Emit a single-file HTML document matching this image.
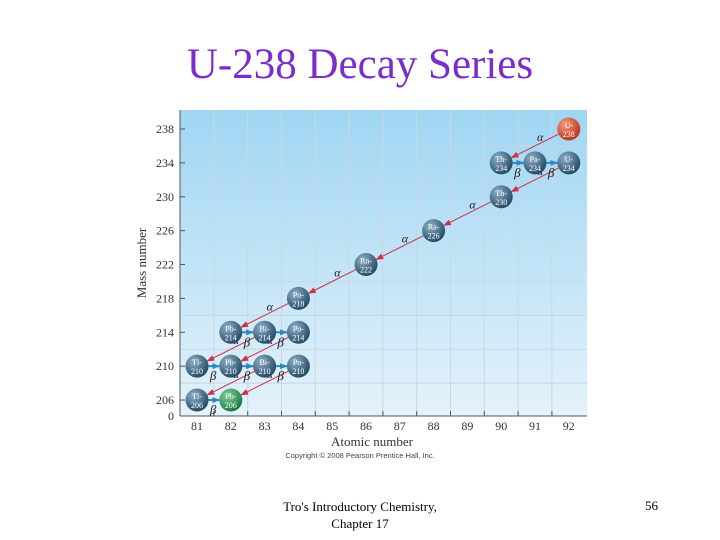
<!DOCTYPE html>
<html><head><meta charset="utf-8"><style>
body{margin:0;width:720px;height:540px;background:#fff;overflow:hidden;font-family:"Liberation Serif",serif}
</style></head><body>
<div style="position:absolute;left:0;width:720px;top:40px;text-align:center;font-size:43px;color:#7a2ccc;">U-238 Decay Series</div>
<svg id="c" width="720" height="540" style="position:absolute;left:0;top:0" xmlns="http://www.w3.org/2000/svg">
<defs>
<linearGradient id="bg" x1="0" y1="0" x2="0" y2="1"><stop offset="0" stop-color="#9fd6f3"/><stop offset="1" stop-color="#e4f2fb"/></linearGradient>
<radialGradient id="gb" cx="0.35" cy="0.3" r="0.75"><stop offset="0" stop-color="#8fb0c6"/><stop offset="1" stop-color="#1f4560"/></radialGradient>
<radialGradient id="gr" cx="0.35" cy="0.3" r="0.75"><stop offset="0" stop-color="#f59a7a"/><stop offset="1" stop-color="#b8301a"/></radialGradient>
<radialGradient id="gg" cx="0.35" cy="0.3" r="0.75"><stop offset="0" stop-color="#7fd39a"/><stop offset="1" stop-color="#13743a"/></radialGradient>
<marker id="ma" markerUnits="userSpaceOnUse" markerWidth="8" markerHeight="6" refX="7" refY="3" orient="auto"><path d="M0,0 L8,3 L0,6 Z" fill="#d0304a"/></marker>
<marker id="mb" markerUnits="userSpaceOnUse" markerWidth="8" markerHeight="6" refX="7" refY="3" orient="auto"><path d="M0,0 L8,3 L0,6 Z" fill="#2a8ac0"/></marker>
</defs>
</svg>
<div style="position:absolute;left:270px;top:498px;width:180px;text-align:center;font-size:13px;line-height:17px;color:#000">Tro's Introductory Chemistry, Chapter 17</div>
<div style="position:absolute;left:645px;top:498px;font-size:13px">56</div>
<script>
const zTicks=[81,82,83,84,85,86,87,88,89,90,91,92];
const aTicks=[206,210,214,218,222,226,230,234,238];
const nuclides=["U-238","Th-234","Pa-234","U-234","Th-230","Ra-226","Rn-222","Po-218","Pb-214","Bi-214","Po-214","Tl-210","Pb-210","Bi-210","Po-210","Tl-206","Pb-206"];
const zVals=[92,90,91,92,90,88,86,84,82,83,84,81,82,83,84,81,82];
const aVals=[238,234,234,234,230,226,222,218,214,214,214,210,210,210,210,206,206];
const alphaFrom=["U-238","U-234","Th-230","Ra-226","Rn-222","Po-218","Po-214","Bi-214","Po-210","Bi-210"];
const alphaTo=["Th-234","Th-230","Ra-226","Rn-222","Po-218","Pb-214","Pb-210","Tl-210","Pb-206","Tl-206"];
const betaFrom=["Th-234","Pa-234","Pb-214","Bi-214","Tl-210","Pb-210","Bi-210","Tl-206"];
const betaTo=["Pa-234","U-234","Bi-214","Po-214","Pb-210","Bi-210","Po-210","Pb-206"];
const NS="http://www.w3.org/2000/svg";
const svg=document.getElementById('c');
const X=z=>197+(z-81)*33.8, Y=a=>129+(238-a)*8.47;
const L=180,R=587,T=110,B=416;
function mk(t,at,p){const e=document.createElementNS(NS,t);for(const k in at)e.setAttribute(k,at[k]);(p||svg).appendChild(e);return e;}
const bg=mk('rect',{x:L,y:T,width:R-L,height:B-T,fill:'url(#bg)'});


zTicks.forEach(z=>{if(z<92){mk('line',{x1:X(z+0.5),x2:X(z+0.5),y1:T,y2:B,stroke:'#c9d8e2','stroke-width':1});mk('line',{x1:X(z+0.5),x2:X(z+0.5),y1:B-5,y2:B,stroke:'#555'});}
 const t=mk('text',{x:X(z),y:B+14,'text-anchor':'middle','font-size':12,fill:'#333','font-family':'Liberation Serif'});t.textContent=z;
 
 });
aTicks.forEach(a=>{if(a<238)mk('line',{x1:L,x2:R,y1:Y(a+2),y2:Y(a+2),stroke:'#c9d8e2'});
 mk('line',{x1:L,x2:L+5,y1:Y(a),y2:Y(a),stroke:'#555'});
 const t=mk('text',{x:L-6,y:Y(a)+4,'text-anchor':'end','font-size':12,fill:'#333','font-family':'Liberation Serif'});t.textContent=a;
 
 });
let z0=mk('text',{x:L-6,y:B+4,'text-anchor':'end','font-size':12,fill:'#333'});z0.textContent='0';
mk('line',{x1:L,x2:R,y1:B,y2:B,stroke:'#555'});mk('line',{x1:L,x2:L,y1:T,y2:B,stroke:'#555'});
let xt=mk('text',{x:372,y:446,'text-anchor':'middle','font-size':13,fill:'#333'});xt.textContent='Atomic number';


let yt=mk('text',{x:146,y:263,'text-anchor':'middle','font-size':13,fill:'#333',transform:'rotate(-90 146 263)'});yt.textContent='Mass number';


let cp=mk('text',{x:360,y:458,'text-anchor':'middle','font-size':7.5,fill:'#444','font-family':'Liberation Sans'});cp.textContent='Copyright © 2008 Pearson Prentice Hall, Inc.';
const idx=n=>nuclides.indexOf(n), r=11.5;
alphaFrom.forEach((f,i)=>{const a=idx(f),b=idx(alphaTo[i]);const x1=X(zVals[a]),y1=Y(aVals[a]),x2=X(zVals[b]),y2=Y(aVals[b]);
 const d=Math.hypot(x2-x1,y2-y1),ux=(x2-x1)/d,uy=(y2-y1)/d;
 const l=mk('line',{x1:x1+ux*r,y1:y1+uy*r,x2:x2-ux*r,y2:y2-uy*r,stroke:'#d0304a','stroke-width':1,'marker-end':'url(#ma)'});
 
 
 const t=mk('text',{x:(x1+x2)/2+2,y:(y1+y2)/2-5,'font-size':12,'font-style':'italic',fill:'#222'});t.textContent='α';});
betaFrom.forEach((f,i)=>{const a=idx(f),b=idx(betaTo[i]);const x1=X(zVals[a]),y1=Y(aVals[a]),x2=X(zVals[b]);
 const l=mk('line',{x1:x1+r,y1:y1,x2:x2-r,y2:y1,stroke:'#2a8ac0','stroke-width':2,'marker-end':'url(#mb)'});
 
 
 const t=mk('text',{x:(x1+x2)/2-4,y:y1+14,'font-size':13,'font-style':'italic',fill:'#222'});t.textContent='β';});
nuclides.forEach((n,i)=>{const g=mk('g',{});
 
 
 const fill=n==='U-238'?'url(#gr)':n==='Pb-206'?'url(#gg)':'url(#gb)';
 mk('circle',{cx:X(zVals[i]),cy:Y(aVals[i]),r:r,fill:fill},g);
 const p=n.split('-');
 const t1=mk('text',{x:X(zVals[i]),y:Y(aVals[i])-1,'text-anchor':'middle','font-size':8,fill:'#fff'},g);t1.textContent=p[0]+'-';
 const t2=mk('text',{x:X(zVals[i]),y:Y(aVals[i])+8,'text-anchor':'middle','font-size':8,fill:'#fff'},g);t2.textContent=p[1];});
</script>
</body></html>
